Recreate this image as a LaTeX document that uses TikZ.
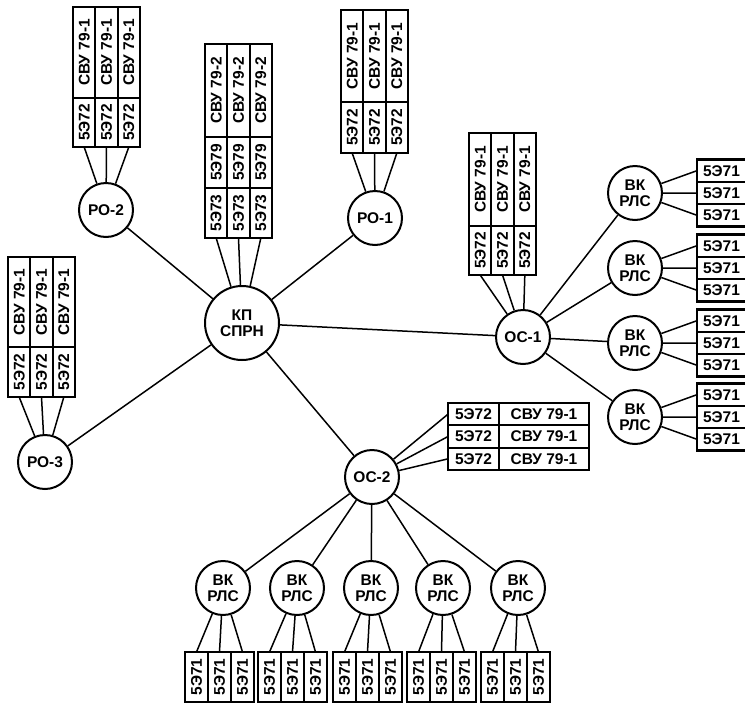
\documentclass[tikz,border=0pt]{standalone}
\usepackage{fontspec}
\newfontfamily\lbl{Liberation Sans}
\usepackage{graphicx}
\begin{document}
\begin{tikzpicture}[x=1pt,y=-1pt,
 lab/.style={font=\lbl\bfseries\fontsize{15.5}{16.5}\selectfont},
 conn/.style={line width=1.5pt},
 circ/.style={lab,circle,draw,line width=2pt,minimum size=54pt,inner sep=0pt,align=center},
 bx/.style={lab,draw,line width=2.2pt,inner sep=0pt,outer sep=0pt,anchor=north west}]
\fill[white] (0,0) rectangle (745,705);
\useasboundingbox (0,0) rectangle (745,705);

% circles
\node[circ] (ro2) at (106,210) {РО-2};
\node[circ] (ro1) at (375,218) {РО-1};
\node[circ,minimum size=74pt] (kp) at (242,323) {КП\\СПРН};
\node[circ] (ro3) at (45,462) {РО-3};
\node[circ] (oc1) at (523,337) {ОС-1};
\node[circ] (oc2) at (372,477) {ОС-2};
\foreach \i/\y in {1/193,2/268,3/343,4/417}
  \node[circ] (vkr\i) at (635,\y) {ВК\\РЛС};
\foreach \i/\x in {1/223,2/297,3/371,4/443,5/518}
  \node[circ] (vkb\i) at (\x,588) {ВК\\РЛС};

% main connectors
\foreach \t in {ro2,ro1,ro3,oc1,oc2}
  \draw[conn] (kp) -- (\t);
\foreach \i in {1,2,3,4}
  \draw[conn] (oc1) -- (vkr\i);
\foreach \i in {1,2,3,4,5}
  \draw[conn] (oc2) -- (vkb\i);

% vertical two-segment groups
\foreach \n/\x/\t/\d/\b/\c in {A/73/7/98/147/ro2,B/341/10/102/153/ro1,C/469/133/226/275/oc1,D/8/257/347/397/ro3}{
  \foreach \j in {1,2,3}{
    \node[bx,minimum width=22.33,minimum height={\d-\t}] (\n-t\j) at ({\x+(\j-1)*22.33},\t) {\rotatebox{90}{СВУ 79-1}};
    \node[bx,minimum width=22.33,minimum height={\b-\d}] (\n-b\j) at ({\x+(\j-1)*22.33},\d) {\rotatebox{90}{5Э72}};
    \draw[conn] (\n-b\j.south) -- (\c);
  }
}

% KP group
\foreach \j in {1,2,3}{
  \node[bx,minimum width=22.33,minimum height=93] (K-t\j) at ({205+(\j-1)*22.33},44) {\rotatebox{90}{СВУ 79-2}};
  \node[bx,minimum width=22.33,minimum height=51] (K-m\j) at ({205+(\j-1)*22.33},137) {\rotatebox{90}{5Э79}};
  \node[bx,minimum width=22.33,minimum height=50] (K-b\j) at ({205+(\j-1)*22.33},188) {\rotatebox{90}{5Э73}};
  \draw[conn] (K-b\j.south) -- (kp);
}

% right boxes
\foreach \i/\y in {1/193,2/268,3/343,4/417}{
  \foreach \j in {1,2,3}{
    \node[bx,minimum width=49,minimum height=22.33] (r\i-\j) at (697,{\y-33.5+(\j-1)*22.33}) {5Э71};
    \draw[conn] (r\i-\j.west) -- (vkr\i);
  }
}

% bottom boxes
\foreach \i/\x in {1/185,2/258,3/333,4/407,5/481}{
  \foreach \j in {1,2,3}{
    \node[bx,minimum width=23,minimum height=50] (bt\i-\j) at ({\x+(\j-1)*23},652) {\rotatebox{90}{5Э71}};
    \draw[conn] (bt\i-\j.north) -- (vkb\i);
  }
}

% OC-2 horizontal boxes
\foreach \j in {1,2,3}{
  \node[bx,minimum width=51,minimum height=22.33] (ha\j) at (448,{403+(\j-1)*22.33}) {5Э72};
  \node[bx,minimum width=90,minimum height=22.33] (hb\j) at (499,{403+(\j-1)*22.33}) {СВУ 79-1};
  \draw[conn] (ha\j.west) -- (oc2);
}
\end{tikzpicture}
\end{document}
